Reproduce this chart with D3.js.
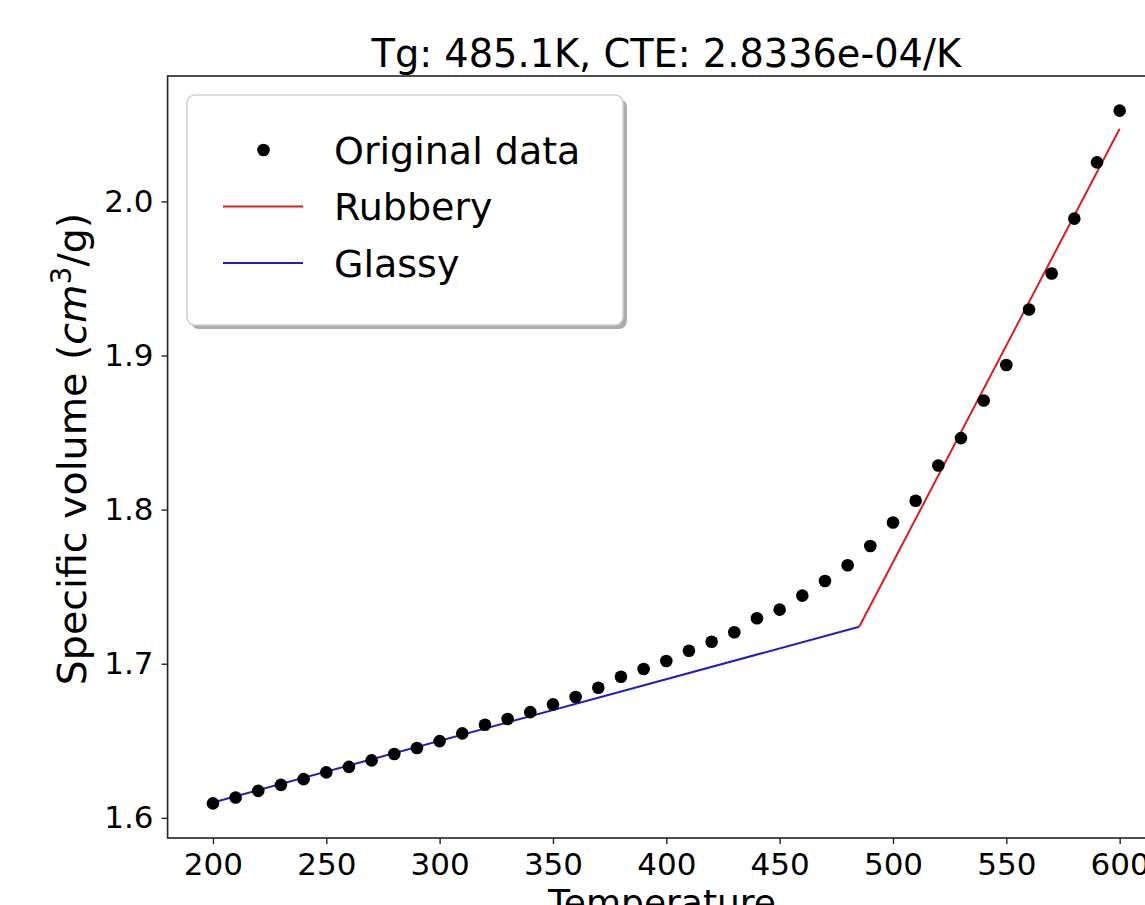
<!DOCTYPE html>
<html>
<head>
<meta charset="utf-8">
<script src="https://cdn.jsdelivr.net/npm/d3@7"></script>
<style>
  body { margin: 0; background: #fff; }
  svg { display: block; font-family: "DejaVu Sans", sans-serif; }
</style>
</head>
<body>
<svg width="1145" height="905"></svg>
<script>
// temperatures (K) and measured specific volume (cm3/g)
const temps = [200, 210, 220, 230, 240, 250, 260, 270, 280, 290, 300, 310, 320, 330, 340, 350, 360, 370, 380, 390,
    400, 410, 420, 430, 440, 450, 460, 470, 480, 490, 500, 510, 520, 530, 540, 550, 560, 570, 580, 590, 600];
const volumes = [1.6094, 1.6132, 1.6175, 1.6214, 1.6251, 1.6295, 1.6331, 1.6373, 1.6414, 1.6453, 1.6498, 1.6548,
    1.6604, 1.6641, 1.6686, 1.6736, 1.6784, 1.6844, 1.6916, 1.6966, 1.7018, 1.7084, 1.7143, 1.7204, 1.7295,
    1.7351, 1.7442, 1.7537, 1.7639, 1.7764, 1.7916, 1.8058, 1.8286, 1.8464, 1.8708, 1.8938, 1.9299, 1.9532,
    1.9888, 2.0253, 2.0589];

// fitted lines (endpoints)
const glassyT = [200, 485.1], glassyV = [1.6100, 1.7240];
const rubberyT = [485.1, 600], rubberyV = [1.7240, 2.0472];

const xTicks = [200, 250, 300, 350, 400, 450, 500, 550, 600];
const yTicks = [1.6, 1.7, 1.8, 1.9, 2.0];
const legendLabels = ["Original data", "Rubbery", "Glassy"];

const svg = d3.select("svg"),
    margin = { top: 76, left: 167.6, bottom: 838 },
    right = 1165;

const xPad = (d3.max(temps) - d3.min(temps)) * 0.05,
    yPad = (d3.max(volumes) - d3.min(volumes)) * 0.05;

const x = d3.scaleLinear().domain([d3.min(temps) - xPad, d3.max(temps) + xPad]).range([margin.left, right]),
    y = d3.scaleLinear().domain([d3.min(volumes) - yPad, d3.max(volumes) + yPad]).range([margin.bottom, margin.top]);

// Fit lines
const line = d3.line().x(d => x(d[0])).y(d => y(d[1]));
svg.append("path")
    .attr("d", line(glassyT.map((t, i) => [t, glassyV[i]])))
    .attr("fill", "none").attr("stroke", "#1e1ec8").attr("stroke-width", 2);
svg.append("path")
    .attr("d", line(rubberyT.map((t, i) => [t, rubberyV[i]])))
    .attr("fill", "none").attr("stroke", "#d81e1e").attr("stroke-width", 2);

// Data points
svg.append("g").selectAll("circle")
    .data(temps)
    .join("circle")
    .attr("cx", d => x(d))
    .attr("cy", (d, i) => y(volumes[i]))
    .attr("r", 6.3)
    .attr("fill", "#000");

// Axes
const xAxis = svg.append("g")
    .attr("transform", `translate(0,${margin.bottom})`)
    .call(d3.axisBottom(x).tickValues(xTicks).tickSize(6).tickPadding(9).tickSizeOuter(0));
const yAxis = svg.append("g")
    .attr("transform", `translate(${margin.left},0)`)
    .call(d3.axisLeft(y).tickValues(yTicks).tickFormat(d3.format(".1f")).tickSize(6).tickPadding(8).tickSizeOuter(0));

[xAxis, yAxis].forEach(a => {
    a.select(".domain").remove();
    a.selectAll("line").attr("stroke", "#222").attr("stroke-width", 1.4);
    a.selectAll("text").attr("font-family", "DejaVu Sans").attr("font-size", 31).attr("fill", "#000");
});

// Spines
svg.append("rect")
    .attr("x", margin.left).attr("y", margin.top)
    .attr("width", right - margin.left).attr("height", margin.bottom - margin.top)
    .attr("fill", "none").attr("stroke", "#222").attr("stroke-width", 1.6);

// Title and labels
const cx = (margin.left + right) / 2;
svg.append("text")
    .attr("x", cx).attr("y", 66.5)
    .attr("text-anchor", "middle").attr("font-size", 38.3)
    .text("Tg: 485.1K, CTE: 2.8336e-04/K");

svg.append("text")
    .attr("x", 662).attr("y", 915)
    .attr("text-anchor", "middle").attr("font-size", 36)
    .text("Temperature");

const yl = svg.append("text")
    .attr("transform", `translate(86,449) rotate(-90)`)
    .attr("text-anchor", "middle").attr("font-size", 39.5);
yl.append("tspan").text("Specific volume (");
yl.append("tspan").attr("font-style", "italic").text("cm");
yl.append("tspan").attr("font-size", 28).attr("dy", -15).text("3");
yl.append("tspan").attr("dy", 15).text("/g)");

// Legend
const lg = svg.append("g").attr("transform", "translate(187,95)");
const lw = 436, lh = 230;
lg.append("rect").attr("x", 4).attr("y", 4).attr("width", lw).attr("height", lh)
    .attr("rx", 8).attr("fill", "#8a8a8a").attr("opacity", 0.7);
lg.append("rect").attr("width", lw).attr("height", lh)
    .attr("rx", 8).attr("fill", "#fff").attr("stroke", "#cfcfcf").attr("stroke-width", 1.5);

legendLabels.forEach((label, i) => {
    const ry = 55 + i * 56.5;
    if (i === 0) {
        lg.append("circle").attr("cx", 76.5).attr("cy", ry).attr("r", 6.3).attr("fill", "#000");
    } else {
        lg.append("line").attr("x1", 36).attr("x2", 116).attr("y1", ry).attr("y2", ry)
            .attr("stroke", i === 1 ? "#d81e1e" : "#1e1ec8").attr("stroke-width", 2);
    }
    lg.append("text").attr("x", 147).attr("y", ry).attr("dy", "0.36em")
        .attr("font-size", 38).text(label);
});
</script>
</body>
</html>
